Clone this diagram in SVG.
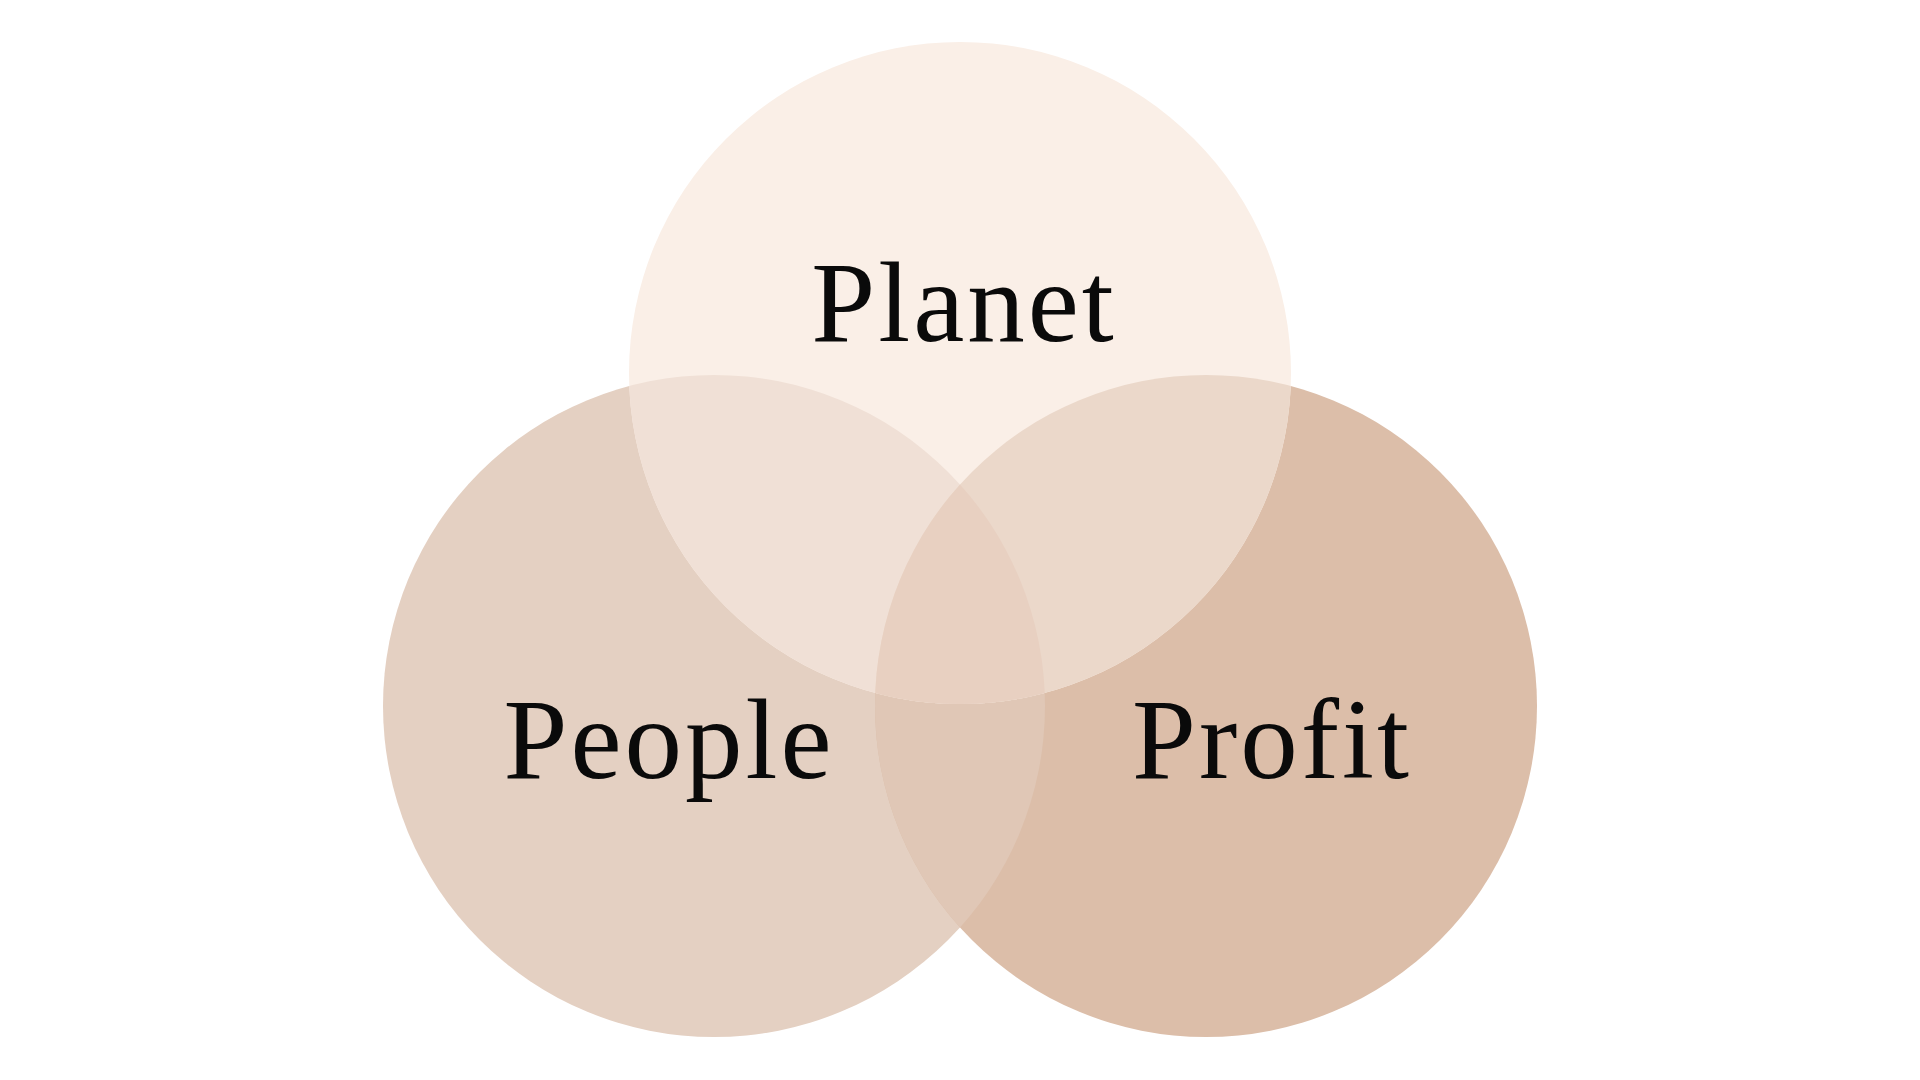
<svg xmlns="http://www.w3.org/2000/svg" width="1920" height="1080" viewBox="0 0 1920 1080">
  <style>
    .label { font-family: "Liberation Serif", "DejaVu Serif", serif; font-size: 115px; letter-spacing: 3px; fill: #0a0a0a; text-anchor: middle; }
  </style>
  <defs>
    <clipPath id="clipPeople"><circle cx="714" cy="706" r="331"/></clipPath>
    <clipPath id="clipProfit"><circle cx="1206" cy="706" r="331"/></clipPath>
  </defs>
  <rect width="1920" height="1080" fill="#ffffff"/>
  <g id="people">
    <circle cx="714" cy="706" r="331" fill="#E4D0C2"/>
    <text class="label" x="669" y="778">People</text>
  </g>
  <g id="profit">
    <circle cx="1206" cy="706" r="331" fill="#DCBEA9"/>
    <text class="label" x="1272" y="778">Profit</text>
  </g>
  <g id="overlap-people-profit" clip-path="url(#clipPeople)">
    <circle cx="1206" cy="706" r="331" fill="#E0C7B6"/>
  </g>
  <g id="planet">
    <circle cx="960" cy="373" r="331" fill="#FAEFE7"/>
    <text class="label" x="964" y="341">Planet</text>
  </g>
  <g id="overlaps">
    <g clip-path="url(#clipPeople)">
      <circle cx="960" cy="373" r="331" fill="#F0E0D6"/>
    </g>
    <g clip-path="url(#clipProfit)">
      <circle cx="960" cy="373" r="331" fill="#EBD8CA"/>
    </g>
    <g clip-path="url(#clipPeople)">
      <g clip-path="url(#clipProfit)">
        <circle cx="960" cy="373" r="331" fill="#E8D0C1"/>
      </g>
    </g>
  </g>
  <g id="connectors"/>
</svg>
